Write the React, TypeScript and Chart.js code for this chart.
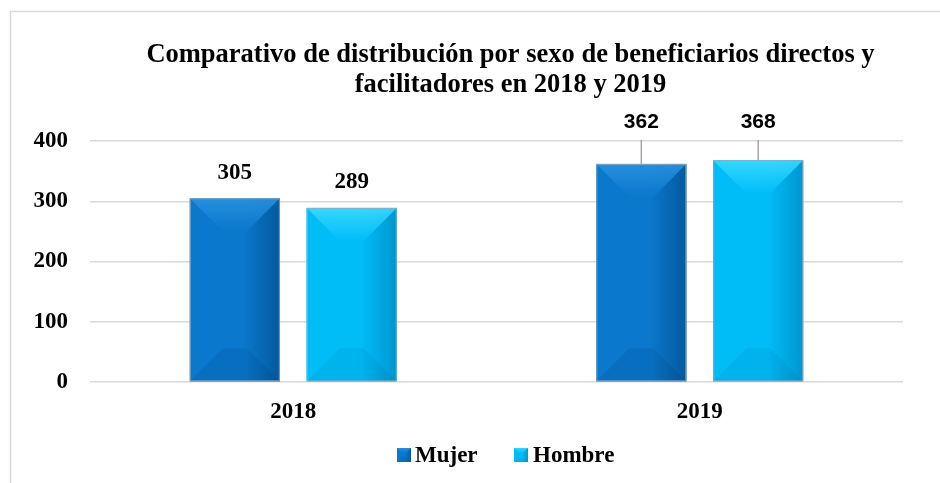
import React, { useEffect, useRef } from "react";
import { Chart, registerables } from "chart.js";

Chart.register(...registerables);

const categories = ["2018", "2019"];
const mujerValues = [305, 362];
const hombreValues = [289, 368];
const seriesLabels = ["Mujer", "Hombre"];
const yTicks = [0, 100, 200, 300, 400];
const titleLines = [
  "Comparativo de distribución por sexo de beneficiarios directos y",
  "facilitadores en 2018 y 2019",
];

const palettes = [
  { base: "#0a78cc", light: "#2d93e2", dark: "#04599d", bottom: "rgba(0,40,90,0.10)" },
  { base: "#00bdf8", light: "#3fdcff", dark: "#0096cf", bottom: "rgba(0,60,110,0.08)" },
];

const SERIF = "'Liberation Serif', 'Times New Roman', serif";
const SANS = "'Liberation Sans', Arial, sans-serif";

function drawBevelRect(ctx: CanvasRenderingContext2D, left: number, top: number, right: number, bottom: number, pal: any, maxD: number) {
  const w = right - left;
  const h = bottom - top;
  if (w <= 0 || h <= 0) return;
  const d = Math.min(maxD, h / 2, w / 2);
  const g = ctx.createLinearGradient(left, 0, right, 0);
  g.addColorStop(0, pal.base);
  g.addColorStop(0.6, pal.base);
  g.addColorStop(1, pal.dark);
  ctx.fillStyle = g;
  ctx.fillRect(left, top, w, h);
  const tg = ctx.createLinearGradient(0, top, 0, top + d);
  tg.addColorStop(0, pal.light);
  tg.addColorStop(1, pal.base);
  ctx.globalAlpha = 0.85;
  ctx.fillStyle = tg;
  ctx.beginPath();
  ctx.moveTo(left, top);
  ctx.lineTo(right, top);
  ctx.lineTo(right - d, top + d);
  ctx.lineTo(left + d, top + d);
  ctx.closePath();
  ctx.fill();
  ctx.globalAlpha = 1;
  ctx.fillStyle = pal.bottom;
  ctx.beginPath();
  ctx.moveTo(left, bottom);
  ctx.lineTo(right, bottom);
  ctx.lineTo(right - d, bottom - d);
  ctx.lineTo(left + d, bottom - d);
  ctx.closePath();
  ctx.fill();
}

const framePlugin = {
  id: "frame",
  beforeDraw(chart: any) {
    const ctx = chart.ctx;
    ctx.save();
    ctx.fillStyle = "#ffffff";
    ctx.fillRect(0, 0, chart.width, chart.height);
    ctx.strokeStyle = "#d9d9d9";
    ctx.lineWidth = 1.5;
    ctx.beginPath();
    ctx.moveTo(10.5, chart.height + 5);
    ctx.lineTo(10.5, 11.5);
    ctx.lineTo(chart.width + 5, 11.5);
    ctx.stroke();
    ctx.restore();
  },
};

const decorPlugin = {
  id: "decor",
  afterDatasetsDraw(chart: any) {
    const ctx = chart.ctx;
    const area = chart.chartArea;
    ctx.save();
    chart.data.datasets.forEach((ds: any, di: number) => {
      const meta = chart.getDatasetMeta(di);
      const pal = palettes[di];
      meta.data.forEach((el: any) => {
        const p = el.getProps(["x", "y", "base", "width"], true);
        const left = p.x - p.width / 2;
        const right = p.x + p.width / 2;
        drawBevelRect(ctx, left, p.y, right, p.base, pal, 33);
        ctx.strokeStyle = "rgba(150,170,190,0.8)";
        ctx.lineWidth = 1;
        ctx.strokeRect(left + 0.5, p.y + 0.5, p.width - 1, p.base - p.y - 1);
      });
    });
    chart.data.datasets.forEach((ds: any, di: number) => {
      const meta = chart.getDatasetMeta(di);
      meta.data.forEach((el: any, i: number) => {
        const p = el.getProps(["x", "y"], true);
        const v = ds.data[i];
        let cy = p.y - 25.5;
        ctx.fillStyle = "#000";
        ctx.textAlign = "center";
        ctx.textBaseline = "middle";
        if (cy < area.top + 10) {
          cy = area.top - 18.5;
          ctx.strokeStyle = "#a6a6a6";
          ctx.lineWidth = 1.5;
          ctx.beginPath();
          ctx.moveTo(p.x, area.top - 1);
          ctx.lineTo(p.x, p.y);
          ctx.stroke();
          ctx.font = `bold 21px ${SANS}`;
          ctx.fillText(String(v), p.x, cy);
        } else {
          ctx.font = `bold 23px ${SERIF}`;
          ctx.fillText(String(v), p.x, cy);
        }
      });
    });
    ctx.restore();
  },
  afterDraw(chart: any) {
    const ctx = chart.ctx;
    ctx.save();
    ctx.fillStyle = "#000";
    ctx.textAlign = "center";
    ctx.textBaseline = "alphabetic";
    ctx.font = `bold 26.5px ${SERIF}`;
    ctx.fillText(titleLines[0], 510.5, 61.5);
    ctx.fillText(titleLines[1], 510.5, 92);
    const items = [
      { x: 397, tx: 415 },
      { x: 514, tx: 533 },
    ];
    ctx.font = `bold 23px ${SERIF}`;
    ctx.textAlign = "left";
    chart.data.datasets.forEach((ds: any, di: number) => {
      const it = items[di];
      drawBevelRect(ctx, it.x, 448, it.x + 14, 462, palettes[di], 5);
      ctx.fillStyle = "#000";
      ctx.fillText(ds.label, it.tx, 461.5);
    });
    ctx.restore();
  },
};

export default function App() {
  const ref = useRef<HTMLCanvasElement | null>(null);
  useEffect(() => {
    document.body.style.margin = "0";
    if (!ref.current) return;
    const chart = new Chart(ref.current, {
      type: "bar",
      data: {
        labels: categories,
        datasets: [
          { label: seriesLabels[0], data: mujerValues, backgroundColor: palettes[0].base, borderWidth: 0 },
          { label: seriesLabels[1], data: hombreValues, backgroundColor: palettes[1].base, borderWidth: 0 },
        ],
      },
      options: {
        animation: false,
        responsive: false,
        events: [],
        layout: { padding: { top: 141, right: 37, left: 0, bottom: 0 } },
        datasets: { bar: { barPercentage: 0.77, categoryPercentage: 0.575 } },
        plugins: { legend: { display: false }, title: { display: false }, tooltip: { enabled: false } },
        scales: {
          x: {
            grid: { display: false },
            border: { display: false },
            ticks: { color: "#000", font: { family: SERIF, size: 23, weight: "bold" }, padding: 8 },
            afterFit: (s: any) => { s.height = 101; },
          },
          y: {
            min: 0,
            max: 400,
            afterBuildTicks: (s: any) => { s.ticks = yTicks.map((v) => ({ value: v })); },
            grid: { color: "#d9d9d9", lineWidth: 1.5, drawTicks: false },
            border: { display: false },
            ticks: { color: "#000", font: { family: SERIF, size: 23, weight: "bold" }, padding: 22 },
            afterFit: (s: any) => { s.width = 90; },
          },
        },
      },
      plugins: [framePlugin, decorPlugin],
    });
    return () => chart.destroy();
  }, []);
  return (
    <div style={{ width: 940, height: 483, overflow: "hidden" }}>
      <canvas ref={ref} width={940} height={483} />
    </div>
  );
}
